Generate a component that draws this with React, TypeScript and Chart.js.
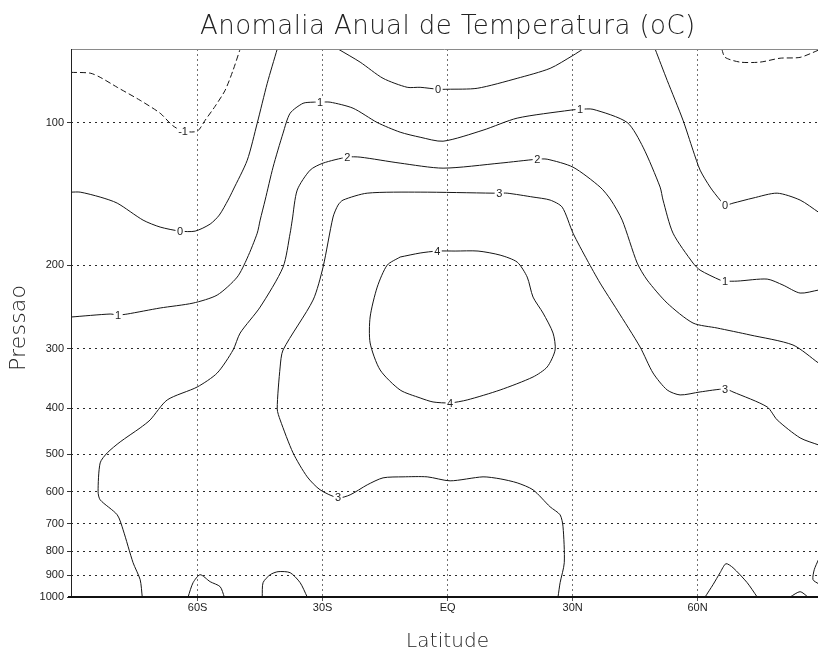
import React, { useEffect, useRef } from 'react';
import { Chart, registerables } from 'chart.js';

Chart.register(...registerables);

const TITLE = 'Anomalia Anual de Temperatura (oC)';
const X_TITLE = 'Latitude';
const Y_TITLE = 'Pressao';

const latTicks = [-60, -30, 0, 30, 60];
const latTickLabels = ['60S', '30S', 'EQ', '30N', '60N'];
const pressureTicks = [100, 200, 300, 400, 500, 600, 700, 800, 900, 1000];

// Contour lines, each point is [latitude, pressure hPa]
const contourNeg1West = [[-90.4, 78.4], [-85.8, 78.7], [-83.4, 80.3], [-79.3, 84.3], [-73.8, 89.8], [-69, 95.6], [-66, 101.5], [-63.5, 104.3], [-60.1, 104.3], [-58.2, 98.9], [-55.8, 92.4], [-53.4, 85.5], [-51.5, 77.6], [-49.8, 70]];
const contourNeg1East = [[65.8, 70], [66.6, 72.9], [70.2, 74.6], [75, 74.6], [79.8, 73.2], [84.6, 72.9], [89, 70.4]];
const contour0West = [[-90.4, 140.2], [-88.2, 140.2], [-83.4, 143.6], [-79.3, 147.9], [-73.1, 160.6], [-69, 166.1], [-64.2, 169.4], [-60.6, 169.4], [-57, 163.7], [-54.8, 156.7], [-52.7, 145.7], [-51.5, 138.8], [-48.1, 120.1], [-45.7, 100.3], [-43.3, 82.7], [-40.9, 70]];
const contour0Trop = [[-26.3, 70], [-21, 74.6], [-15.5, 80.7], [-9.7, 84.3], [-6.6, 84.3], [-2.3, 85.1], [-0.1, 85.1], [7.1, 84.7], [16.7, 80.7], [24.6, 76.9], [30.1, 72.2], [32.5, 70]];
const contour0East = [[49.8, 70], [52.7, 81.5], [56.5, 98.9], [58.9, 114.4], [60.6, 126], [63, 136.8], [65.4, 145.7], [66.6, 149.3], [68.5, 147.9], [73.3, 144.3], [79.1, 140.9], [84.6, 145.7], [89, 154.5]];
const contour1 = [[-90.4, 257], [-81, 253.3], [-79.1, 254.5], [-76.9, 253.3], [-69, 246], [-61.1, 240.2], [-55.3, 231], [-50.5, 211.7], [-48.1, 193.1], [-45.7, 171.1], [-45, 160.6], [-43.8, 145.7], [-41.9, 124.2], [-39.5, 105.3], [-37.8, 95.6], [-34.7, 91.1], [-32.3, 90.6], [-30.6, 90.6], [-28.2, 90.6], [-22.7, 93.3], [-16.9, 100], [-11.4, 104.8], [-6.6, 107.4], [-1.1, 109.5], [8.5, 103.8], [16.7, 97.9], [29.4, 94.2], [31.8, 93.8], [34.9, 93.8], [43.1, 100], [46.9, 112.7], [51, 136.8], [51.7, 145.7], [54.1, 171.1], [58.9, 197.8], [60.6, 204.7], [65.4, 214.8], [66.6, 215.9], [69.5, 215.9], [76.7, 213.8], [80.5, 220.1], [84.6, 228.8], [89, 225.5]];
const contour2 = [[-73.3, 1000], [-73.8, 919.4], [-75.5, 846.7], [-77.9, 721.6], [-79.3, 671.2], [-83.4, 624.1], [-83.9, 600.3], [-83.4, 521.6], [-81.7, 496.9], [-78.6, 471.1], [-73.8, 440.2], [-71.4, 423.4], [-67.3, 384.3], [-60.1, 360.9], [-55.3, 337.2], [-51.5, 301.6], [-49.8, 277.8], [-45, 244.9], [-39.5, 201.7], [-37.8, 171.1], [-37.3, 160.6], [-36.1, 138.8], [-33, 126], [-29.9, 121.8], [-24.1, 118.3], [-21, 118.3], [-11.4, 121.8], [-1.1, 124.8], [12.6, 121.8], [21.5, 119.5], [23.9, 119.5], [30.1, 124.2], [36.6, 136.8], [39.2, 145.7], [41.9, 160.6], [45.5, 197.8], [47.9, 214.8], [52.7, 240.2], [58.9, 264.6], [64.7, 271.1], [72.6, 280.4], [82.9, 294.4], [89, 321.2]];
const contour3 = [[26.5, 1000], [27, 932.9], [28, 846.7], [27.7, 711.2], [27, 671.2], [24.6, 645.6], [20.5, 594.5], [16.7, 574.7], [12.6, 563.6], [8.5, 558.2], [0.6, 569.1], [-4.9, 558.2], [-10.7, 558.2], [-15.5, 560.9], [-19.3, 580.3], [-23.4, 609.1], [-26.3, 618], [-30.6, 594.5], [-33.7, 558.2], [-37.1, 496.9], [-40.2, 423.4], [-40.9, 401.5], [-40.2, 327.5], [-39.5, 301.6], [-32.3, 236.7], [-29.9, 201.7], [-27.5, 158.2], [-26.3, 149.3], [-25.1, 145.7], [-19.3, 140.9], [-6.6, 140.2], [10.9, 140.9], [12.4, 140.9], [14.3, 140.9], [20.5, 143.6], [24.6, 145.7], [27.5, 150.8], [30.1, 171.1], [33.5, 195], [36.6, 218], [40.7, 248.5], [46.2, 297.3], [49.3, 337.2], [52.7, 366.2], [55.8, 375.1], [60.6, 369.7], [66.6, 364.4], [68.5, 369.7], [76.7, 397.6], [79.1, 423.4], [84.6, 462], [89, 478]];
const contour4 = [[-11.4, 192.1], [-6.6, 188.4], [-2.5, 186.6], [1.8, 186.6], [7.3, 186.6], [12.6, 190.3], [16.7, 196.9], [19.1, 211.7], [20.5, 233.3], [22.9, 252.1], [25.3, 277.8], [25.8, 301.6], [23.9, 327.5], [20.5, 343.8], [12.6, 366.2], [4.7, 384.3], [0.6, 389.9], [-3.5, 388.1], [-6.6, 380.6], [-11.4, 366.2], [-16.2, 332.3], [-18.6, 291.5], [-18.6, 257], [-16.9, 222.3], [-14.5, 199.8], [-11.4, 192.1]];
const contourBump1 = [[-62.3, 1000], [-61.1, 932.9], [-59.4, 897.5], [-57, 928.4], [-54.6, 951.2], [-53.6, 1000]];
const contourBump2 = [[-44.5, 1000], [-44.3, 932.9], [-42.6, 897.5], [-40.7, 884.4], [-37.8, 888.7], [-35.4, 932.9], [-33.7, 1000]];
const contourBump3 = [[61.8, 1000], [63.7, 942], [65.4, 888.7], [66.8, 850.8], [68.5, 867.5], [71.9, 932.9], [74.3, 1000]];
const contourBump4 = [[82.2, 1000], [84.6, 974.6], [86.5, 1000]];
const contourBump5 = [[89, 834.6], [88, 875.9], [87.7, 919.4], [89, 937.6]];

const contourLines = [
  { level: -1, points: contourNeg1West },
  { level: -1, points: contourNeg1East },
  { level: 0, points: contour0West },
  { level: 0, points: contour0Trop },
  { level: 0, points: contour0East },
  { level: 1, points: contour1 },
  { level: 2, points: contour2 },
  { level: 3, points: contour3 },
  { level: 4, points: contour4 },
  { level: 2, points: contourBump1 },
  { level: 2, points: contourBump2 },
  { level: 2, points: contourBump3 },
  { level: 2, points: contourBump4 },
  { level: 2, points: contourBump5 },
];

// Contour labels
const labelLat = [-63.5, -64.2, -79.1, -30.6, -24.1, -26.3, -2.3, 31.8, 21.5, 12.4, -2.5, 0.6, 66.6, 66.6, 66.6];
const labelP = [104.3, 169.4, 254.5, 90.6, 118.3, 618, 85.1, 93.8, 119.5, 140.9, 186.6, 391.8, 149.3, 215.9, 364.4];
const labelText = ['-1', '0', '1', '1', '2', '3', '0', '1', '2', '3', '4', '4', '0', '1', '3'];

const LIGHT_FONT = '"DejaVu Sans", "Liberation Sans", sans-serif';
const TICK_FONT = '"Liberation Sans", Arial, sans-serif';

function drawSpaced(ctx: CanvasRenderingContext2D, text: string, targetWidth: number) {
  (ctx as any).letterSpacing = '0px';
  const w = ctx.measureText(text).width;
  const sp = Math.max(0, (targetWidth - w) / Math.max(1, text.length - 1));
  (ctx as any).letterSpacing = sp.toFixed(2) + 'px';
  const w2 = w + sp * (text.length - 1);
  ctx.fillText(text, -w2 / 2, 0);
  (ctx as any).letterSpacing = '0px';
}

const gradsPlugin = {
  id: 'gradsDecor',
  afterDatasetsDraw(chart: any) {
    const { ctx, chartArea, scales } = chart;
    const { left, right, top, bottom } = chartArea;
    const xs = scales.x;
    const ys = scales.y;
    ctx.save();
    // frame
    ctx.setLineDash([]);
    ctx.strokeStyle = '#8a8a8a';
    ctx.lineWidth = 1;
    ctx.beginPath();
    ctx.moveTo(left, top + 0.5);
    ctx.lineTo(right, top + 0.5);
    ctx.stroke();
    ctx.strokeStyle = '#222';
    ctx.beginPath();
    ctx.moveTo(left + 0.5, top);
    ctx.lineTo(left + 0.5, bottom);
    ctx.stroke();
    ctx.strokeStyle = '#111';
    ctx.lineWidth = 2;
    ctx.beginPath();
    ctx.moveTo(left - 3, bottom);
    ctx.lineTo(right, bottom);
    ctx.stroke();

    // contour labels
    ctx.font = '11px ' + TICK_FONT;
    ctx.textAlign = 'center';
    ctx.textBaseline = 'middle';
    for (let i = 0; i < labelText.length; i++) {
      const px = xs.getPixelForValue(labelLat[i]);
      const py = ys.getPixelForValue(labelP[i]);
      const w = ctx.measureText(labelText[i]).width;
      ctx.fillStyle = '#ffffff';
      ctx.fillRect(px - w / 2 - 1.5, py - 4.5, w + 3, 9);
      ctx.fillStyle = '#222';
      ctx.fillText(labelText[i], px, py + 0.5);
    }

    // titles
    const cx = xs.getPixelForValue(0);
    ctx.fillStyle = '#222';
    ctx.textAlign = 'left';
    ctx.textBaseline = 'alphabetic';
    ctx.save();
    ctx.font = '200 26px ' + LIGHT_FONT;
    ctx.translate(cx, 34);
    drawSpaced(ctx, TITLE, 495);
    ctx.restore();

    ctx.save();
    ctx.font = '200 20px ' + LIGHT_FONT;
    ctx.translate(cx, 647);
    drawSpaced(ctx, X_TITLE, 83);
    ctx.restore();

    ctx.save();
    ctx.font = '200 22px ' + LIGHT_FONT;
    ctx.translate(25, (top + bottom) / 2 + 5);
    ctx.rotate(-Math.PI / 2);
    drawSpaced(ctx, Y_TITLE, 86);
    ctx.restore();

    ctx.restore();
  },
};

export default function App() {
  const canvasRef = useRef<HTMLCanvasElement | null>(null);

  useEffect(() => {
    document.body.style.margin = '0';
    const canvas = canvasRef.current;
    if (!canvas) return;

    const datasets = contourLines.map((c) => ({
      data: c.points.map(([lat, p]) => ({ x: lat, y: p })),
      showLine: true,
      pointRadius: 0,
      borderColor: '#151515',
      borderWidth: 1,
      borderDash: c.level < 0 ? [6, 3] : [],
      tension: 0.25,
      fill: false,
    }));

    const chart = new Chart(canvas, {
      type: 'scatter',
      data: { datasets },
      plugins: [gradsPlugin],
      options: {
        animation: false,
        responsive: false,
        devicePixelRatio: 1,
        events: [],
        layout: { padding: { top: 49, left: 0, right: 0, bottom: 0 } },
        plugins: {
          legend: { display: false },
          tooltip: { enabled: false },
          title: { display: false },
        },
        scales: {
          x: {
            type: 'linear',
            min: -90.4,
            max: 88.9,
            afterFit: (s: any) => {
              s.height = 51;
            },
            afterBuildTicks: (s: any) => {
              s.ticks = latTicks.map((v) => ({ value: v }));
            },
            ticks: {
              autoSkip: false,
              maxRotation: 0,
              padding: 0,
              color: '#222',
              font: { family: TICK_FONT, size: 11 },
              callback: (v: any) => latTickLabels[latTicks.indexOf(Number(v))] ?? '',
            },
            grid: {
              color: '#707070',
              lineWidth: 1,
              drawTicks: true,
              tickLength: 4,
              tickColor: '#555',
              tickBorderDash: [],
            },
            border: { display: false, dash: [2, 3] },
          },
          y: {
            type: 'logarithmic',
            min: 70,
            max: 1000,
            reverse: true,
            afterFit: (s: any) => {
              s.width = 71;
            },
            afterBuildTicks: (s: any) => {
              s.ticks = pressureTicks.map((v) => ({ value: v }));
            },
            ticks: {
              autoSkip: false,
              padding: 3,
              color: '#222',
              font: { family: TICK_FONT, size: 11 },
              callback: (v: any) => String(v),
            },
            grid: {
              color: '#2a2a2a',
              lineWidth: 1,
              drawTicks: true,
              tickLength: 4,
              tickColor: '#333',
              tickBorderDash: [],
            },
            border: { display: false, dash: [2, 4] },
          },
        },
      },
    });

    return () => {
      chart.destroy();
    };
  }, []);

  return (
    <div style={{ width: 818, height: 648, background: '#fff' }}>
      <canvas ref={canvasRef} width={818} height={648} style={{ display: 'block' }} />
    </div>
  );
}
